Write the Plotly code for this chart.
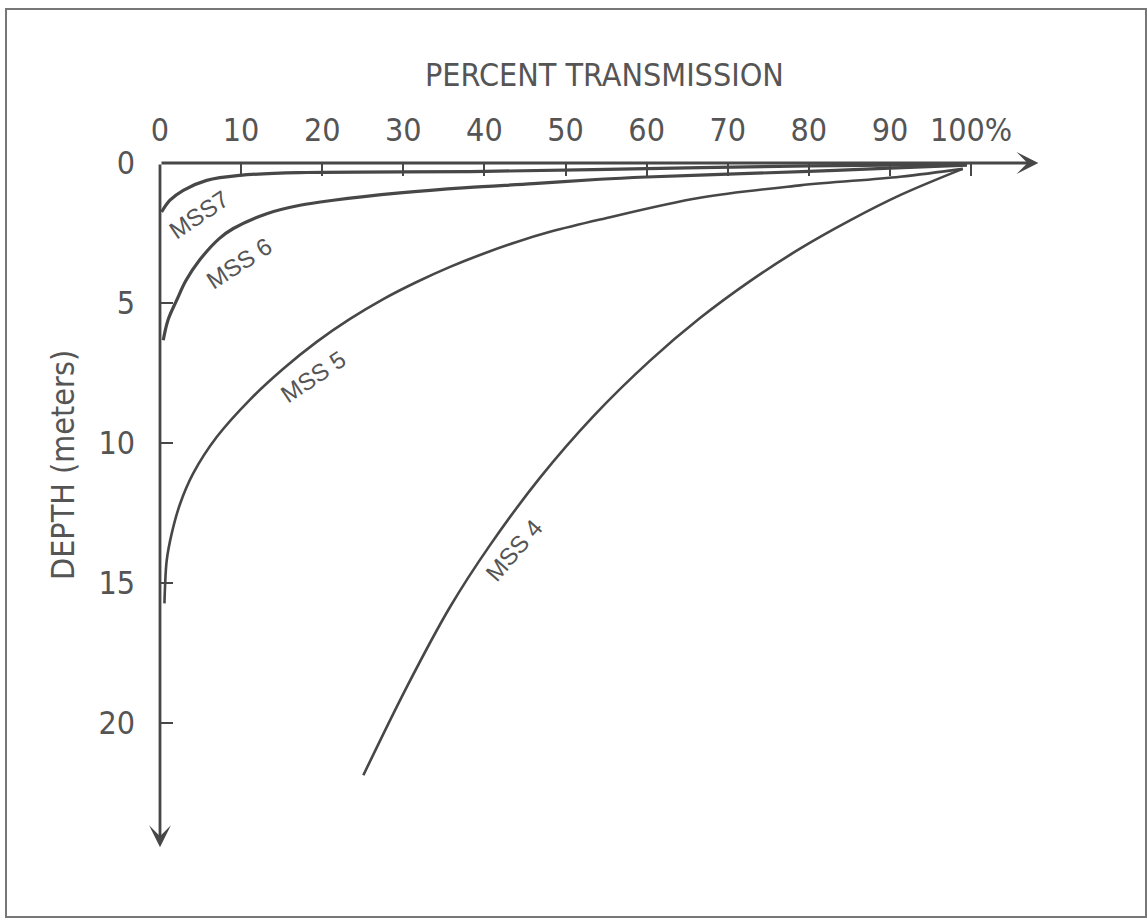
import plotly.graph_objects as go

# ---- data (percent transmission vs depth in metres) ----
mss4_pct = [98.89, 91.25, 85.08, 78.91, 72.75, 66.58, 60.42, 53.39, 46.86, 40.69, 35.76, 30.42, 25.07]
mss4_depth = [0.22, 1.15, 2.05, 3.06, 4.22, 5.54, 7.06, 9.06, 11.24, 13.65, 15.86, 18.72, 21.87]

mss5_pct = [99.0, 91.25, 78.91, 66.58, 54.25, 48.09, 43.98, 39.86, 35.76, 31.65, 27.53, 23.43,
            19.32, 15.20, 11.10, 6.99, 4.11, 2.47, 1.44, 0.83, 0.62, 0.55]
mss5_depth = [0.21, 0.49, 0.80, 1.24, 2.02, 2.46, 2.82, 3.24, 3.71, 4.25, 4.86, 5.57,
              6.39, 7.35, 8.45, 9.79, 11.08, 12.18, 13.24, 14.19, 15.14, 15.73]

mss6_pct = [99.5, 90, 80, 70, 60, 54.25, 46.03, 37.82, 29.59, 21.37, 17.26, 13.16, 9.04, 7.3,
            4.93, 3.2, 2.06, 1.0, 0.4]
mss6_depth = [0.08, 0.18, 0.3, 0.4, 0.5, 0.58, 0.74, 0.88, 1.07, 1.33, 1.51, 1.81, 2.34, 2.7,
              3.45, 4.2, 4.9, 5.6, 6.33]

mss7_pct = [99.5, 80, 60, 40, 18.1, 9.86, 5.76, 2.87, 1.23, 0.2]
mss7_depth = [0.05, 0.1, 0.2, 0.3, 0.34, 0.44, 0.62, 0.975, 1.33, 1.75]

x_ticks = [0, 10, 20, 30, 40, 50, 60, 70, 80, 90, 100]
x_ticktext = ["0", "10", "20", "30", "40", "50", "60", "70", "80", "90", "100%"]
y_ticks = [0, 5, 10, 15, 20]
y_ticktext = ["0", "5", "10", "15", "20"]

label_text = ["MSS7", "MSS 6", "MSS 5", "MSS 4"]
label_x = [4.8, 9.7, 18.9, 43.6]
label_y = [1.83, 3.58, 7.62, 13.84]
label_angle = [-34, -33, -34, -49]

X_MAX = 108.5
Y_MAX = 24.54

INK = "#474747"
TXT = "#555555"
NARROW = "Liberation Sans Narrow, Arial Narrow, DejaVu Sans Condensed, sans-serif"
REG = "Liberation Sans, Arial, sans-serif"

fig = go.Figure()
series = [
    (mss4_pct, mss4_depth, 2.6),
    (mss5_pct, mss5_depth, 2.6),
    (mss6_pct, mss6_depth, 3.2),
    (mss7_pct, mss7_depth, 3.2),
]
for xs, ys, w in series:
    fig.add_trace(go.Scatter(x=xs, y=ys, mode="lines",
                             line=dict(color=INK, width=w, shape="spline", smoothing=1.0),
                             showlegend=False, hoverinfo="skip"))

W, H = 1147, 920
ML, MR, MT, MB = 160, 107, 163, 70

fig.update_layout(
    width=W, height=H,
    margin=dict(l=ML, r=MR, t=MT, b=MB),
    paper_bgcolor="white", plot_bgcolor="white",
    showlegend=False,
    xaxis=dict(range=[0, X_MAX], side="top", tickmode="array", tickvals=x_ticks,
               ticktext=x_ticktext, ticks="inside", ticklen=13, tickwidth=2.2,
               tickcolor=INK, showgrid=False, zeroline=False, showline=False,
               tickfont=dict(family=NARROW, size=32, color=TXT),
               ticklabelstandoff=15, fixedrange=True),
    yaxis=dict(range=[Y_MAX, 0], tickmode="array", tickvals=y_ticks,
               ticktext=y_ticktext, ticks="inside", ticklen=13, tickwidth=2.2,
               tickcolor=INK, showgrid=False, zeroline=False, showline=False,
               tickfont=dict(family=NARROW, size=32, color=TXT),
               ticklabelstandoff=24, fixedrange=True),
)

# axes drawn as arrows
fig.add_annotation(x=X_MAX - 0.2, y=0, ax=0, ay=0, xref="x", yref="y", axref="x", ayref="y",
                   showarrow=True, arrowhead=3, arrowsize=1.3, arrowwidth=2.8,
                   arrowcolor=INK, text="", standoff=0, startstandoff=0)
fig.add_annotation(x=0, y=Y_MAX - 0.1, ax=0, ay=0, xref="x", yref="y", axref="x", ayref="y",
                   showarrow=True, arrowhead=3, arrowsize=1.3, arrowwidth=2.8,
                   arrowcolor=INK, text="", standoff=0, startstandoff=0)

# curve labels
for t, lx, ly, a in zip(label_text, label_x, label_y, label_angle):
    fig.add_annotation(x=lx, y=ly, xref="x", yref="y", text=t, textangle=a,
                       xanchor="center", yanchor="middle",
                       showarrow=False, font=dict(family=REG, size=24, color=TXT))

# axis titles
pw = W - ML - MR
ph = H - MT - MB
def px_to_paper_x(px):
    return (px - ML) / pw
def px_to_paper_y(py):
    return (H - MB - py) / ph

fig.add_annotation(x=px_to_paper_x(604), y=px_to_paper_y(75), xref="paper", yref="paper",
                   xanchor="center", yanchor="middle",
                   text="PERCENT TRANSMISSION", showarrow=False,
                   font=dict(family=NARROW, size=32, color=TXT))
fig.add_annotation(x=px_to_paper_x(63), y=px_to_paper_y(465), xref="paper", yref="paper",
                   xanchor="center", yanchor="middle",
                   text="DEPTH (meters)", showarrow=False, textangle=-90,
                   font=dict(family=NARROW, size=32, color=TXT))

# outer frame
fig.add_shape(type="rect", xref="paper", yref="paper",
              x0=px_to_paper_x(6), x1=px_to_paper_x(1146),
              y0=px_to_paper_y(917), y1=px_to_paper_y(9),
              line=dict(color="#777777", width=2), layer="below")

fig.write_html("out.html", config={"displayModeBar": False},
               post_script="document.body.style.margin='0';")
